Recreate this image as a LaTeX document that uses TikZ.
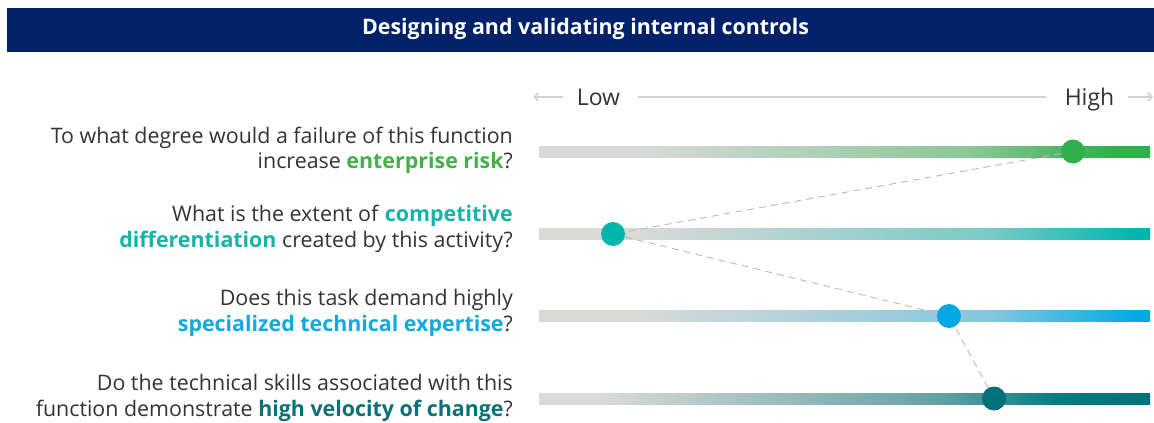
\documentclass[tikz,border=0pt]{standalone}
\usepackage{fontspec}
\setmainfont{Open Sans}
\usetikzlibrary{arrows.meta}
\definecolor{navy}{RGB}{1,34,104}
\definecolor{txt}{RGB}{51,51,51}
\definecolor{bargray}{RGB}{217,218,216}
\definecolor{cgreen}{RGB}{46,176,75}
\definecolor{cteal}{RGB}{0,181,173}
\definecolor{cblue}{RGB}{0,169,230}
\definecolor{cdark}{RGB}{0,113,122}
\definecolor{tgreen}{RGB}{67,176,73}
\definecolor{tteal}{RGB}{24,179,168}
\definecolor{tblue}{RGB}{18,168,224}
\definecolor{tdark}{RGB}{13,112,117}
\definecolor{axisgray}{RGB}{210,210,210}
\definecolor{dashgray}{RGB}{185,185,185}
\pgfdeclarehorizontalshading{shgreen}{100bp}{color(0bp)=(bargray); color(33bp)=(bargray); color(60bp)=(cgreen!45!bargray); color(72bp)=(cgreen); color(100bp)=(cgreen)}
\pgfdeclarehorizontalshading{shteal}{100bp}{color(0bp)=(bargray); color(33bp)=(bargray); color(62bp)=(cteal!45!bargray); color(74bp)=(cteal); color(100bp)=(cteal)}
\pgfdeclarehorizontalshading{shblue}{100bp}{color(0bp)=(bargray); color(33bp)=(bargray); color(62bp)=(cblue!40!bargray); color(74bp)=(cblue); color(100bp)=(cblue)}
\pgfdeclarehorizontalshading{shdark}{100bp}{color(0bp)=(bargray); color(30bp)=(bargray); color(58bp)=(cdark!55!bargray); color(68bp)=(cdark!80!cteal!60!cdark); color(75bp)=(cdark); color(100bp)=(cdark)}
\tikzset{
  question/.style={anchor=east, align=right, text=txt, inner sep=0pt, font=\fontsize{21.4}{25.5}\selectfont},
  axislabel/.style={text=txt, inner sep=0pt, anchor=base, font=\fontsize{23}{26}\selectfont},
  axisline/.style={draw=axisgray, line width=1.6pt},
  dot/.style={circle, inner sep=0pt, minimum size=24pt},
  link/.style={draw=dashgray, line width=0.9pt, dash pattern=on 7pt off 5pt},
}
\begin{document}
\begin{tikzpicture}[x=1pt,y=-1pt]
\useasboundingbox (0,0) rectangle (1154,423);
% header
\fill[navy] (7,8) rectangle (1154,52);
\node[text=white, font=\fontsize{21.4}{24}\bfseries\selectfont, inner sep=0pt] (title) at (585.5,29) {Designing and validating internal controls};
% axis
\node[axislabel] (low) at (598.5,105.5) {Low};
\node[axislabel] (high) at (1089.5,105.5) {High};
\coordinate (la) at (533,97);
\coordinate (ra) at (1153,97);
\draw[axisline,-{Straight Barb[length=4pt,width=8pt]}] (563,97) -- (la);
\draw[axisline] (638,97) -- (1046,97);
\draw[axisline,-{Straight Barb[length=4pt,width=8pt]}] (1128,97) -- (ra);
% questions
\node[question] (q1) at (513,150.5) {To what degree would a failure of this function\\increase \textbf{\color{tgreen}enterprise risk}?};
\node[question] (q2) at (513,229) {What is the extent of \textbf{\color{tteal}competitive}\\\textbf{\color{tteal}differentiation} created by this activity?};
\node[question] (q3) at (513,313) {Does this task demand highly\\\textbf{\color{tblue}specialized technical expertise}?};
\node[question] (q4) at (513,398) {Do the technical skills associated with this\\function demonstrate \textbf{\color{tdark}high velocity of change}?};
% bars
\shade[shading=shgreen] (539,146) rectangle (1150,157);
\shade[shading=shteal] (539,228.5) rectangle (1150,239.5);
\shade[shading=shblue] (539,310.5) rectangle (1150,321.5);
\shade[shading=shdark] (539,393) rectangle (1150,404);
% dots
\node[dot] (d1) at (1073,151.5) {};
\node[dot] (d2) at (613,234) {};
\node[dot] (d3) at (949,316) {};
\node[dot] (d4) at (994,398.5) {};
\draw[link] (d1.center) -- (d2.center) -- (d3.center) -- (d4.center);
\fill[cgreen] (d1) circle (12pt);
\fill[cteal] (d2) circle (12pt);
\fill[cblue] (d3) circle (12pt);
\fill[cdark] (d4) circle (12pt);
\end{tikzpicture}
\end{document}
